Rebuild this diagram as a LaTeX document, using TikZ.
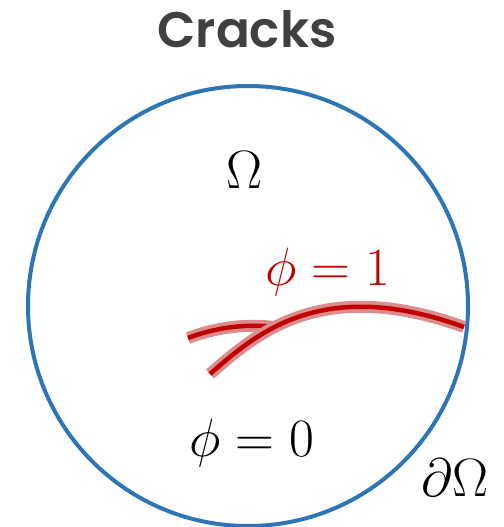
\RequirePackage{fix-cm}
\documentclass[tikz,border=0pt]{standalone}
\usepackage{fontspec}
\newfontfamily\titlefont{Poppins}[UprightFont={* SemiBold}]
\definecolor{circblue}{HTML}{2E75B6}
\definecolor{crackred}{HTML}{C00000}
\definecolor{crackpink}{HTML}{DC8C8C}
\definecolor{titlegray}{HTML}{404040}
\tikzset{
  halo/.style={draw=crackpink, line width=12pt, line cap=butt},
  core/.style={draw=crackred, line width=4.5pt, line cap=butt},
  mathlbl/.style={inner sep=0pt, font=\fontsize{54}{60}\selectfont},
}
\begin{document}
\begin{tikzpicture}[x=1pt,y=-1pt]
\useasboundingbox (0,0) rectangle (503,527);
\node[font=\titlefont\fontsize{50}{56}\selectfont, text=titlegray] (title) at (247,29) {Cracks};
\draw[circblue, line width=4pt] (248,306) circle (220);
\coordinate (a0) at (210,374);
\coordinate (a1) at (464,327);
\coordinate (b0) at (188,338);
\coordinate (b1) at (273,327);
\path[halo] (b0) .. controls (220,326) and (250,324) .. (b1);
\path[core] (b0) .. controls (220,326) and (250,324) .. (b1);
\path[halo] (a0) .. controls (255,335) and (320,275) .. (a1);
\path[core] (a0) .. controls (255,335) and (320,275) .. (a1);
\node[mathlbl] (omega) at (245,170) {$\Omega$};
\node[mathlbl, text=crackred] (phi1) at (328,272) {$\phi=1$};
\node[mathlbl] (phi0) at (252,443) {$\phi=0$};
\node[mathlbl] (domega) at (455,478) {$\partial\Omega$};
\end{tikzpicture}
\end{document}
